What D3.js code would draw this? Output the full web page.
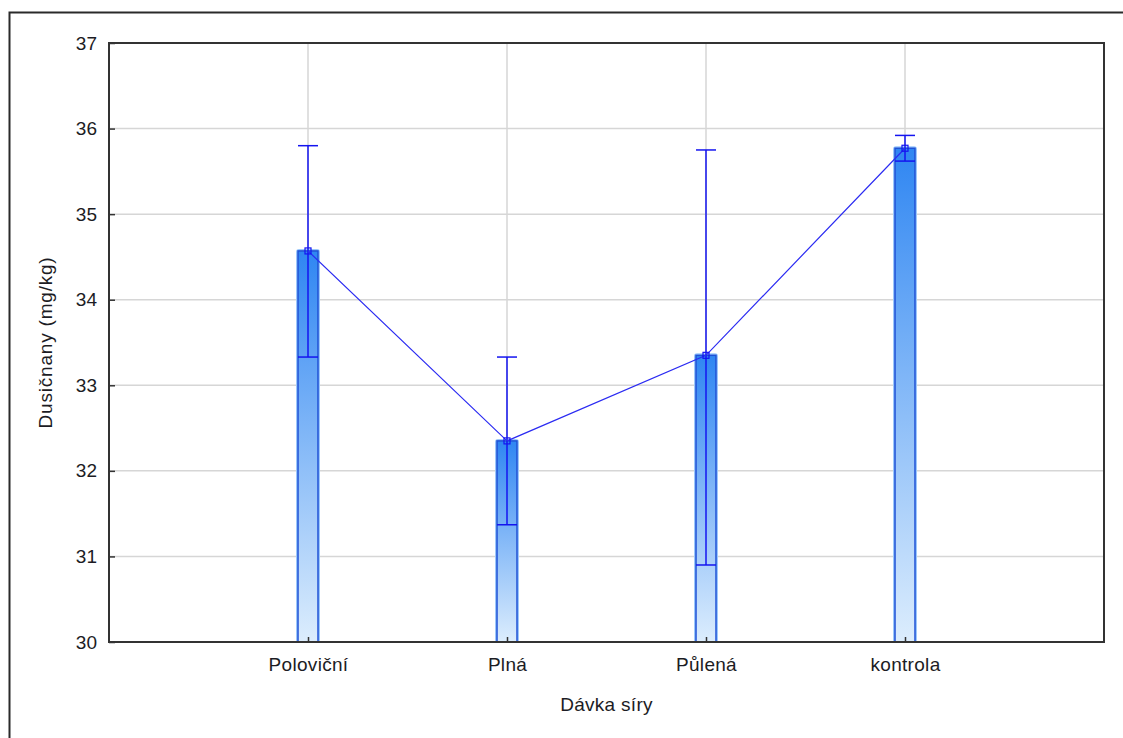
<!DOCTYPE html>
<html>
<head>
<meta charset="utf-8">
<script src="https://cdn.jsdelivr.net/npm/d3@7"></script>
<style>
  html, body { margin: 0; padding: 0; background: #fff; }
  svg { display: block; }
  text { font-family: Arial, "Liberation Sans", sans-serif; fill: #1c1c24; }
</style>
</head>
<body>
<svg id="chart" width="1123" height="738"></svg>
<script>
// Mean nitrate content per sulphur dose, with error limits
const categories = ["Poloviční", "Plná", "Půlená", "kontrola"];
const means = [34.57, 32.35, 33.35, 35.77];
const upper = [35.80, 33.33, 35.75, 35.92];
const lower = [33.33, 31.37, 30.90, 35.62];
const yTicks = [30, 31, 32, 33, 34, 35, 36, 37];
const xTitle = "Dávka síry";
const yTitle = "Dusičnany (mg/kg)";

const svg = d3.select("#chart");
const W = 1123, H = 738;
const m = { left: 109, top: 43, right: 1104, bottom: 642 };
const fs = 19;

// outer frame
svg.append("path")
  .attr("d", `M9.5,${H} V12.5 H${W}`)
  .attr("fill", "none").attr("stroke", "#2a2a2a").attr("stroke-width", 2);

// categories sit at positions 1..4 on a 0..5 band
const x = d3.scalePoint().domain(["", ...categories, " "]).range([m.left, m.right]);
const y = d3.scaleLinear().domain([30, 37]).range([m.bottom, m.top]);

const defs = svg.append("defs");
const grad = defs.append("linearGradient")
  .attr("id", "barFill").attr("x1", 0).attr("y1", 0).attr("x2", 0).attr("y2", 1);
grad.append("stop").attr("offset", "0%").attr("stop-color", "#2f86f2");
grad.append("stop").attr("offset", "100%").attr("stop-color", "#dcedfd");

// grid
svg.append("g").selectAll("line").data(yTicks.slice(1, -1)).join("line")
  .attr("x1", m.left).attr("x2", m.right)
  .attr("y1", d => y(d)).attr("y2", d => y(d))
  .attr("stroke", "#d6d6d6").attr("stroke-width", 1.5);
svg.append("g").selectAll("line").data(categories).join("line")
  .attr("x1", d => x(d)).attr("x2", d => x(d))
  .attr("y1", m.top).attr("y2", m.bottom)
  .attr("stroke", "#d6d6d6").attr("stroke-width", 1.5);

const bw = 20;
const bars = svg.append("g");
categories.forEach((c, i) => {
  const g = bars.append("g");
  // soft halo around the bar
  g.append("rect")
    .attr("x", x(c) - bw / 2 - 1).attr("y", y(means[i]) - 1)
    .attr("width", bw + 2).attr("height", y(30) - y(means[i]) + 1)
    .attr("rx", 2).attr("fill", "none").attr("stroke", "#9cc8fb").attr("stroke-width", 2);
  g.append("rect")
    .attr("x", x(c) - bw / 2).attr("y", y(means[i]))
    .attr("width", bw).attr("height", y(30) - y(means[i]))
    .attr("fill", "url(#barFill)").attr("stroke", "#1f52d6").attr("stroke-width", 1.5);
});

// error bars
const eb = svg.append("g").attr("stroke", "#1414f0").attr("stroke-width", 1.5).attr("fill", "none");
categories.forEach((c, i) => {
  const cx = x(c);
  eb.append("line").attr("x1", cx).attr("x2", cx).attr("y1", y(upper[i])).attr("y2", y(lower[i]));
  eb.append("line").attr("x1", cx - bw / 2).attr("x2", cx + bw / 2).attr("y1", y(upper[i])).attr("y2", y(upper[i]));
  eb.append("line").attr("x1", cx - bw / 2).attr("x2", cx + bw / 2).attr("y1", y(lower[i])).attr("y2", y(lower[i]));
});

// line through the means
svg.append("path")
  .datum(means)
  .attr("d", d3.line().x((d, i) => x(categories[i])).y(d => y(d)))
  .attr("fill", "none").attr("stroke", "#2b2bf2").attr("stroke-width", 1.2);
svg.append("g").selectAll("rect").data(means).join("rect")
  .attr("x", (d, i) => x(categories[i]) - 3).attr("y", d => y(d) - 3)
  .attr("width", 6).attr("height", 6)
  .attr("fill", "none").attr("stroke", "#1414f0").attr("stroke-width", 1.2);

// frame of the plot area
svg.append("rect")
  .attr("x", m.left).attr("y", m.top)
  .attr("width", m.right - m.left).attr("height", m.bottom - m.top)
  .attr("fill", "none").attr("stroke", "#333").attr("stroke-width", 2);

// axes
const yAxis = svg.append("g").attr("transform", `translate(${m.left},0)`)
  .call(d3.axisLeft(y).tickValues(yTicks).tickFormat(d3.format("d")).tickSizeInner(-6).tickSizeOuter(0).tickPadding(12));
yAxis.select(".domain").remove();
yAxis.selectAll("line").attr("stroke", "#333").attr("stroke-width", 1.5);
yAxis.selectAll("text").attr("font-size", fs).attr("fill", "#1c1c24");

const xAxis = svg.append("g").attr("transform", `translate(0,${m.bottom})`)
  .call(d3.axisBottom(x).tickValues(categories).tickSizeInner(-5).tickSizeOuter(0).tickPadding(16));
xAxis.select(".domain").remove();
xAxis.selectAll("line").attr("stroke", "#333").attr("stroke-width", 1.5);
xAxis.selectAll("text").attr("font-size", fs).attr("fill", "#1c1c24").attr("letter-spacing", 0.3);

// axis titles
svg.append("text")
  .attr("x", (m.left + m.right) / 2).attr("y", 711)
  .attr("text-anchor", "middle").attr("font-size", fs).attr("letter-spacing", 0.3).text(xTitle);
svg.append("text")
  .attr("transform", `translate(52,${(m.top + m.bottom) / 2}) rotate(-90)`)
  .attr("text-anchor", "middle").attr("font-size", fs).attr("letter-spacing", 0.8).text(yTitle);
</script>
</body>
</html>
